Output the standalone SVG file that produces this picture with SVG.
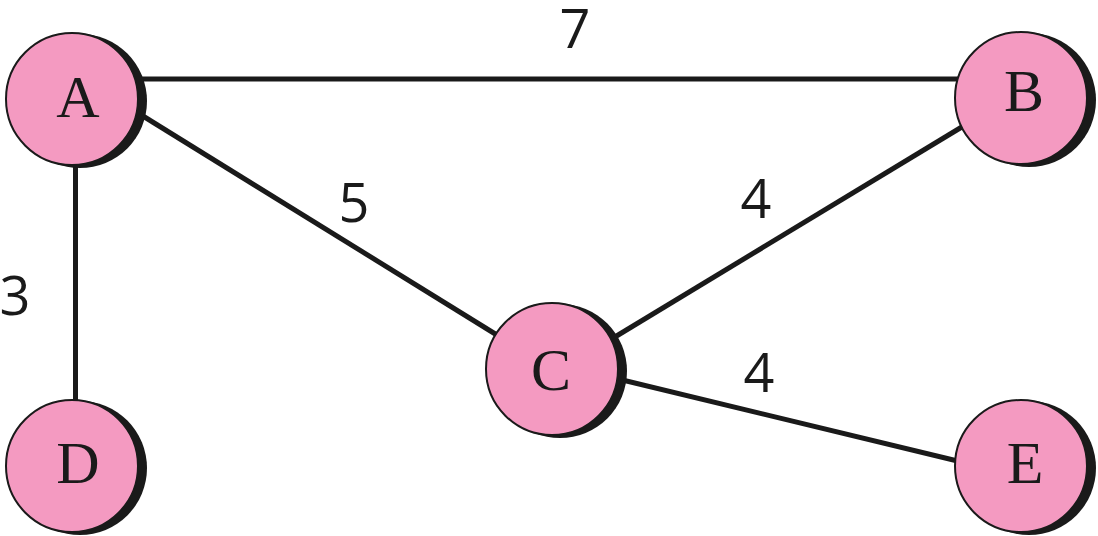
<svg xmlns="http://www.w3.org/2000/svg" width="1098" height="536" viewBox="0 0 1098 536">
<style>
.edge{stroke:#1a1a1a;stroke-width:5;fill:none}
.shadow{fill:#1a1a1a}
.node{fill:#f49ac1;stroke:#1a1a1a;stroke-width:2}
.lbl{font-family:"Liberation Serif",serif;font-size:60px;fill:#1a1a1a;text-anchor:middle}
.w{font-family:"Open Sans","Noto Sans",sans-serif;font-size:54px;fill:#1a1a1a;text-anchor:middle}
</style>
<g id="connectors">
<line class="edge" x1="130" y1="79" x2="970" y2="79"/>
<line class="edge" x1="75.5" y1="150" x2="75.5" y2="410"/>
<line class="edge" x1="130" y1="108" x2="505" y2="340"/>
<line class="edge" x1="600" y1="346" x2="975" y2="119"/>
<line class="edge" x1="610" y1="377" x2="970" y2="464"/>
<text class="w" x="575" y="48">7</text>
<text class="w" x="354" y="222">5</text>
<text class="w" x="15" y="315">3</text>
<text class="w" x="756" y="218">4</text>
<text class="w" x="759" y="392">4</text>
</g>
<g id="node-A">
<circle class="shadow" cx="80" cy="101" r="67"/>
<circle class="node" cx="72" cy="99" r="66"/>
<text class="lbl" x="78" y="117">A</text>
</g>
<g id="node-B">
<circle class="shadow" cx="1029" cy="100" r="67"/>
<circle class="node" cx="1021" cy="98" r="66"/>
<text class="lbl" x="1024" y="111">B</text>
</g>
<g id="node-C">
<circle class="shadow" cx="560" cy="371" r="67"/>
<circle class="node" cx="552" cy="369" r="66"/>
<text class="lbl" x="551" y="390">C</text>
</g>
<g id="node-D">
<circle class="shadow" cx="80" cy="468" r="67"/>
<circle class="node" cx="72" cy="466" r="66"/>
<text class="lbl" x="78" y="483">D</text>
</g>
<g id="node-E">
<circle class="shadow" cx="1029" cy="468" r="67"/>
<circle class="node" cx="1021" cy="466" r="66"/>
<text class="lbl" x="1025" y="483">E</text>
</g>
</svg>
